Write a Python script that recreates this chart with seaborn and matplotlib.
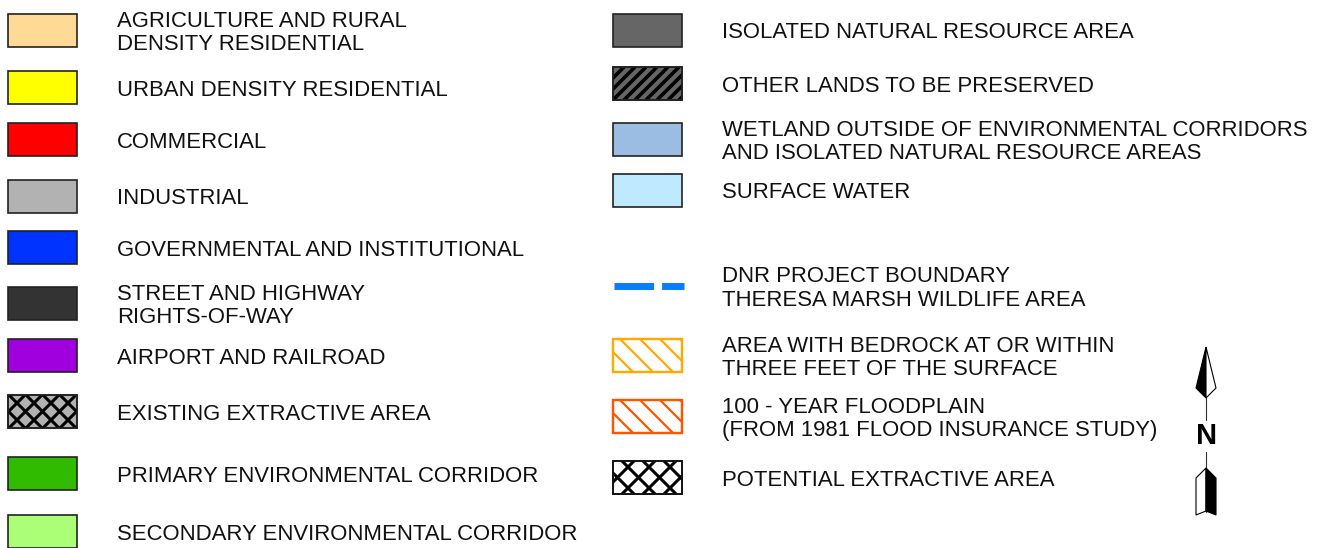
import matplotlib
matplotlib.use("Agg")
import matplotlib.pyplot as plt
import numpy as np
import seaborn as sns
from matplotlib.patches import Rectangle, Polygon
from matplotlib.collections import LineCollection

sns.set_theme(style="white")
plt.rcParams['font.family'] = ['Liberation Sans', 'DejaVu Sans']

# Legend content
left_labels = [
    "AGRICULTURE AND RURAL\nDENSITY RESIDENTIAL",
    "URBAN DENSITY RESIDENTIAL",
    "COMMERCIAL",
    "INDUSTRIAL",
    "GOVERNMENTAL AND INSTITUTIONAL",
    "STREET AND HIGHWAY\nRIGHTS-OF-WAY",
    "AIRPORT AND RAILROAD",
    "EXISTING EXTRACTIVE AREA",
    "PRIMARY ENVIRONMENTAL CORRIDOR",
    "SECONDARY ENVIRONMENTAL CORRIDOR",
]
left_faces = ['#FFD995', '#FFFF00', '#FF0000', '#B2B2B2', '#0033FF',
              '#333333', '#A000DE', '#B2B2B2', '#30BB00', '#AAFF77']
left_edges = ['#222222'] * 10
left_hatch = [None, None, None, None, None, None, None, 'x', None, None]

right_labels = [
    "ISOLATED NATURAL RESOURCE AREA",
    "OTHER LANDS TO BE PRESERVED",
    "WETLAND OUTSIDE OF ENVIRONMENTAL CORRIDORS\nAND ISOLATED NATURAL RESOURCE AREAS",
    "SURFACE WATER",
    "DNR PROJECT BOUNDARY\nTHERESA MARSH WILDLIFE AREA",
    "AREA WITH BEDROCK AT OR WITHIN\nTHREE FEET OF THE SURFACE",
    "100 - YEAR FLOODPLAIN\n(FROM 1981 FLOOD INSURANCE STUDY)",
    "POTENTIAL EXTRACTIVE AREA",
]
right_faces = ['#666666', '#666666', '#9BBDE3', '#BFE9FF', None,
               '#FFFFFF', '#FFFFFF', '#FFFFFF']
right_edges = ['#222222', '#222222', '#222222', '#222222', '#0A7CFF',
               '#FFAA00', '#FF5500', '#111111']
right_hatch = [None, '/', None, None, 'dash', '\\', '\\', 'x']

# layout (pixel units of the 1327x548 canvas)
left_rows = [30.5, 87.5, 139.5, 196.5, 247.5, 303.5, 355.5, 411.5, 473.5, 531.5]
right_rows = [30.5, 83.5, 139.5, 190.5, 286, 355.5, 416.5, 477.5]
sw_w, sw_h = 69, 33
line_gap = 23
hatch_style = {'/': (11, 2.6), '\\': (20, 1.6), 'x': (17, 2.2)}


def add_hatch(ax, rect, x0, y0, kind, color, spacing, lw):
    dirs = ['/', '\\'] if kind == 'x' else [kind]
    segs = []
    for d in dirs:
        for c in np.arange(-sw_h - spacing, sw_w + sw_h + spacing, spacing):
            if d == '/':
                segs.append([(x0 + c, y0 + sw_h), (x0 + c + sw_h, y0)])
            else:
                segs.append([(x0 + c, y0), (x0 + c + sw_h, y0 + sw_h)])
    lc = LineCollection(segs, colors=color, linewidths=lw, zorder=3)
    ax.add_collection(lc)
    lc.set_clip_path(rect)


def draw_column(ax, x_sw, x_txt, rows, labels, faces, edges, hatches):
    for yc, lab, fc, ec, h in zip(rows, labels, faces, edges, hatches):
        if h == 'dash':
            ax.plot([x_sw + 1, x_sw + 71], [yc, yc], color=ec, lw=5.0,
                    solid_capstyle='butt', dash_capstyle='butt',
                    dashes=(5.7, 1.15), zorder=3)
        else:
            y0 = yc - sw_h / 2
            colored_edge = fc == '#FFFFFF' and ec != '#111111'
            rect = Rectangle((x_sw, y0), sw_w, sw_h, facecolor=fc,
                             edgecolor=ec, lw=1.6 if colored_edge else 1.2,
                             zorder=2)
            ax.add_patch(rect)
            if h is not None:
                sp, lw = hatch_style[h]
                if h == 'x' and fc == '#FFFFFF':
                    sp = 21
                hc = ec if colored_edge else '#000000'
                add_hatch(ax, rect, x_sw, y0, h, hc, sp, lw)
                ax.add_patch(Rectangle((x_sw, y0), sw_w, sw_h, facecolor='none',
                                       edgecolor=ec, lw=1.6 if colored_edge else 1.2,
                                       zorder=4))
        lines = lab.split('\n')
        n = len(lines)
        for i, ln in enumerate(lines):
            ty = yc + (i - (n - 1) / 2) * line_gap + 8
            ax.text(x_txt, ty, ln, fontsize=15.9, color='#111111',
                    ha='left', va='baseline')


fig = plt.figure(figsize=(13.27, 5.48), dpi=100)
ax = fig.add_axes([0, 0, 1, 1])
ax.set_xlim(0, 1327)
ax.set_ylim(548, 0)
ax.axis('off')

draw_column(ax, 8, 117, left_rows, left_labels, left_faces, left_edges, left_hatch)
draw_column(ax, 613, 722, right_rows, right_labels, right_faces, right_edges, right_hatch)

# north arrow
cx = 1206
ax.plot([cx, cx], [347, 420], color='#333333', lw=0.8, zorder=1)
ax.plot([cx, cx], [452, 512], color='#333333', lw=0.8, zorder=1)
ax.add_patch(Polygon([(cx, 347), (cx - 10, 388), (cx, 398)], closed=True,
                     facecolor='black', edgecolor='black', lw=0.8, zorder=2))
ax.add_patch(Polygon([(cx, 347), (cx + 10, 388), (cx, 398)], closed=True,
                     facecolor='white', edgecolor='black', lw=0.8, zorder=2))
ax.add_patch(Polygon([(cx, 468), (cx - 10, 478), (cx - 10, 515), (cx, 511)],
                     closed=True, facecolor='white', edgecolor='black', lw=0.8, zorder=2))
ax.add_patch(Polygon([(cx, 468), (cx + 10, 478), (cx + 10, 515), (cx, 511)],
                     closed=True, facecolor='black', edgecolor='black', lw=0.8, zorder=2))
ax.text(cx + 1, 436, "N", fontsize=21, fontweight='bold', ha='center',
        va='center', color='black')

fig.savefig("out.png", dpi=100)
